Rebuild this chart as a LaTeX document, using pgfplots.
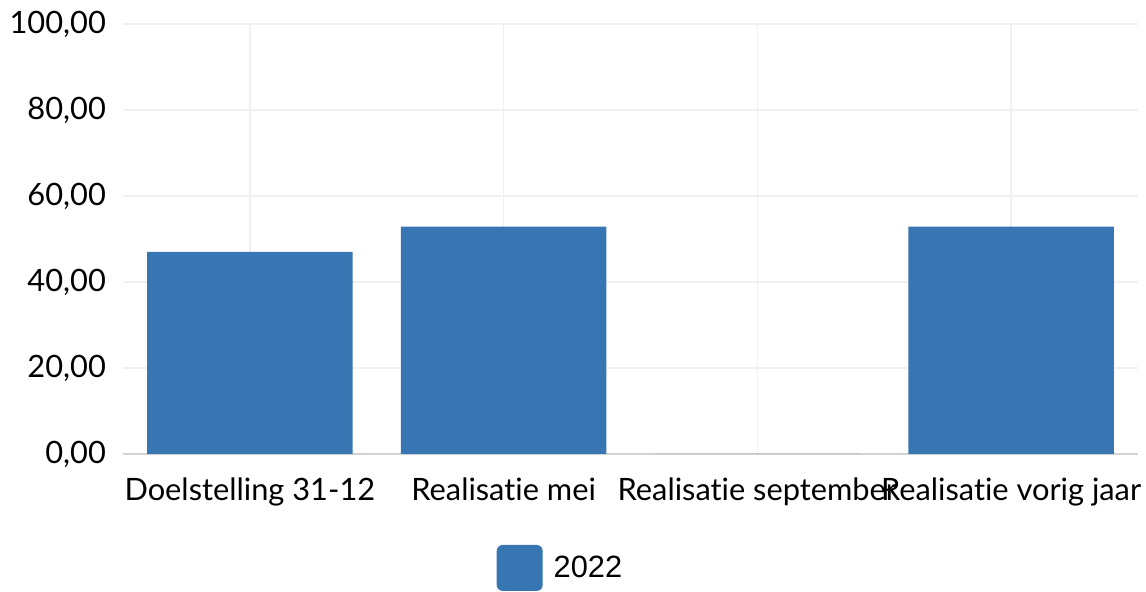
\documentclass[border=0pt]{standalone}
\usepackage{pgfplots}
\pgfplotsset{compat=1.18}
\usepackage{fontspec}
\setmainfont{Lato}[Ligatures={NoCommon,NoRare}]
\newfontfamily\legfont{Liberation Sans}
\definecolor{barblue}{RGB}{55,118,178}
\definecolor{gridc}{RGB}{240,240,240}
\definecolor{axc}{RGB}{210,210,210}
\begin{document}
\begin{tikzpicture}
\begin{axis}[
  scale only axis,
  width=507.5pt, height=215pt,
  xmin=-0.5, xmax=3.5, ymin=0, ymax=100,
  axis x line*=bottom, axis y line*=left,
  x axis line style={draw=axc, line width=1pt, -},
  y axis line style={draw=none},
  xtick={0,1,2,3},
  xticklabels={Doelstelling 31-12, Realisatie mei, Realisatie september, Realisatie vorig jaar},
  ytick={0,20,40,60,80,100},
  major tick length=0pt,
  xmajorgrids, ymajorgrids,
  grid style={draw=gridc, line width=0.8pt},
  tick label style={font=\fontsize{15.4}{17}\selectfont, text=black},
  xticklabel style={yshift=-8.5pt},
  yticklabel style={xshift=-5pt},
  /pgf/number format/assume math mode=true,
  yticklabel={\pgfmathprintnumber[fixed, fixed zerofill, precision=2, use comma, 1000 sep={}]{\tick}},
  ybar, bar width=0.81,
  legend style={at={(0.432,-0.265)}, anchor=center, draw=none, fill=none,
    font=\legfont\fontsize{15.4}{17}\selectfont, inner sep=0pt},
  legend image code/.code={\fill[barblue, rounded corners=3pt] (0pt,-11.5pt) rectangle (23pt,11.5pt);},
]
\addplot[fill=barblue, draw=none] coordinates {(0,47) (1,52.9) (2,0) (3,52.9)};
\addlegendentry{\hspace{3.5pt}2022}
\end{axis}
\pgfresetboundingbox
\path (-61.5pt,-69pt) rectangle (511.5pt,227pt);
\end{tikzpicture}
\end{document}
